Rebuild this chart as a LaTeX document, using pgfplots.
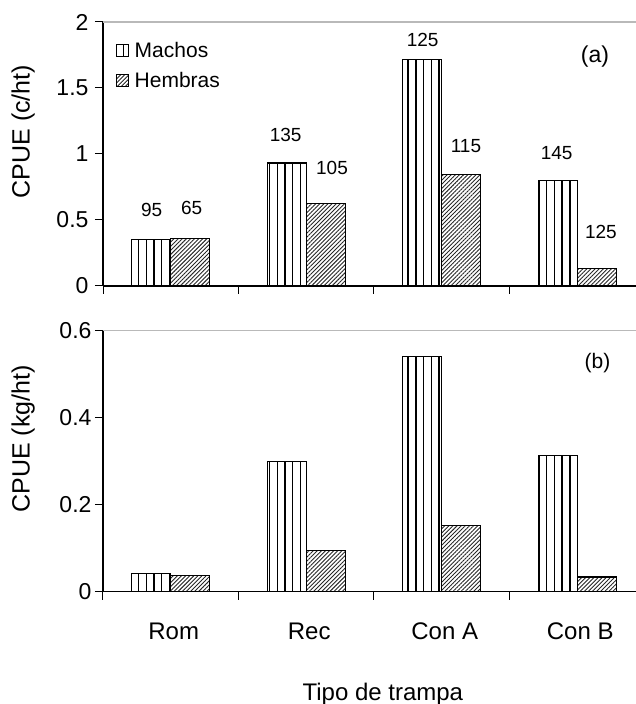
\documentclass[border=0pt]{standalone}
\usepackage{pgfplots}
\pgfplotsset{compat=1.18}
\usepackage{fontspec}
\setmainfont{Liberation Sans}
\usetikzlibrary{patterns.meta}

\tikzset{nlabel/.style={font=\fontsize{19}{22}\selectfont, anchor=center}}

\pgfplotsset{
  cpue/.style={
    scale only axis, width=533pt, anchor=south west,
    xmin=-0.5, xmax=3.434, ymin=0, enlargelimits=false,
    axis x line*=bottom, axis y line*=left,
    axis line style={black, line width=1.2pt, -},
    ybar, bar width=39pt,
    % separators between trap types
    xtick={-0.5,0.5,1.5,2.5}, xticklabels={},
    % category names sit at the group centres
    extra x ticks={0,1,2,3},
    extra x tick style={major tick length=0pt},
    tick align=outside, major tick length=8pt,
    tick style={black, line width=1pt},
    /pgf/number format/assume math mode=true,
    yticklabel style={font=\fontsize{23}{26}\selectfont, /pgf/number format/fixed},
    xticklabel style={font=\fontsize{24}{28}\selectfont, anchor=base, yshift=-47.6pt, xshift=3pt},
    ylabel style={font=\fontsize{25}{29}\selectfont, at={(axis description cs:-0.150,0.585)}, anchor=center},
    clip=false,
    legend image code/.code={\draw[#1, draw=black, line width=0.8pt] (0pt,-6pt) rectangle (12pt,6pt);},
  },
  machos/.style={draw=black, line width=1.2pt,
    pattern={Lines[angle=90, distance=7.7pt, line width=1.4pt]}, pattern color=black,
    bar shift=-19.5pt},
  hembras/.style={draw=black, line width=1.2pt,
    pattern={Lines[angle=45, distance=2.9pt, line width=0.9pt]}, pattern color=black!85,
    bar shift=19.5pt},
}

\begin{document}
\begin{tikzpicture}[x=1pt,y=1pt]
\useasboundingbox (0,0) rectangle (636,704);

% (a) catch per unit effort in number
\begin{axis}[cpue, at={(103pt,418pt)}, height=264pt,
  ymax=2, ytick={0,0.5,1,1.5,2},
  yticklabel style={xshift=-3pt},
  extra x tick labels={},
  ylabel={CPUE (c/ht)},
  legend cell align=left,
  legend style={at={(rel axis cs:0.022,0.936)}, anchor=north west, draw=none, fill=none,
    font=\fontsize{21}{24}\selectfont, row sep=9pt, inner sep=1pt,
    /tikz/every odd column/.style={column sep=4pt}},
  ]
\addplot[machos] coordinates {(0,0.354) (1,0.932) (2,1.717) (3,0.800)};
\addplot[hembras] coordinates {(0,0.361) (1,0.626) (2,0.846) (3,0.134)};
\legend{Machos,Hembras}
\draw[gray!55, line width=1.5pt] (rel axis cs:0,1) -- (rel axis cs:1,1);
\node[nlabel] at (axis cs:-0.141,0.576) {95};
\node[nlabel] at (axis cs:0.155,0.590) {65};
\node[nlabel] at (axis cs:0.848,1.144) {135};
\node[nlabel] at (axis cs:1.190,0.894) {105};
\node[nlabel] at (axis cs:1.859,1.864) {125};
\node[nlabel] at (axis cs:2.179,1.060) {115};
\node[nlabel] at (axis cs:2.848,1.008) {145};
\node[nlabel] at (axis cs:3.175,0.409) {125};
\node[font=\fontsize{23}{27}\selectfont] at (axis cs:3.131,1.735) {(a)};
\end{axis}

% (b) catch per unit effort in weight
\begin{axis}[cpue, at={(103pt,112.3pt)}, height=261pt,
  ymax=0.6, ytick={0,0.2,0.4,0.6},
  extra x tick labels={Rom,Rec,Con A,Con B},
  ylabel={CPUE (kg/ht)},
  xlabel={Tipo de trampa},
  xlabel style={font=\fontsize{24}{28}\selectfont, at={(axis description cs:0.525,-0.415)}, anchor=base},
  ]
\addplot[machos] coordinates {(0,0.042) (1,0.299) (2,0.540) (3,0.314)};
\addplot[hembras] coordinates {(0,0.037) (1,0.094) (2,0.153) (3,0.034)};
\draw[gray!55, line width=1.5pt] (rel axis cs:0,1) -- (rel axis cs:1,1);
\node[font=\fontsize{21}{25}\selectfont] at (axis cs:3.15,0.525) {(b)};
\end{axis}
\end{tikzpicture}
\end{document}
